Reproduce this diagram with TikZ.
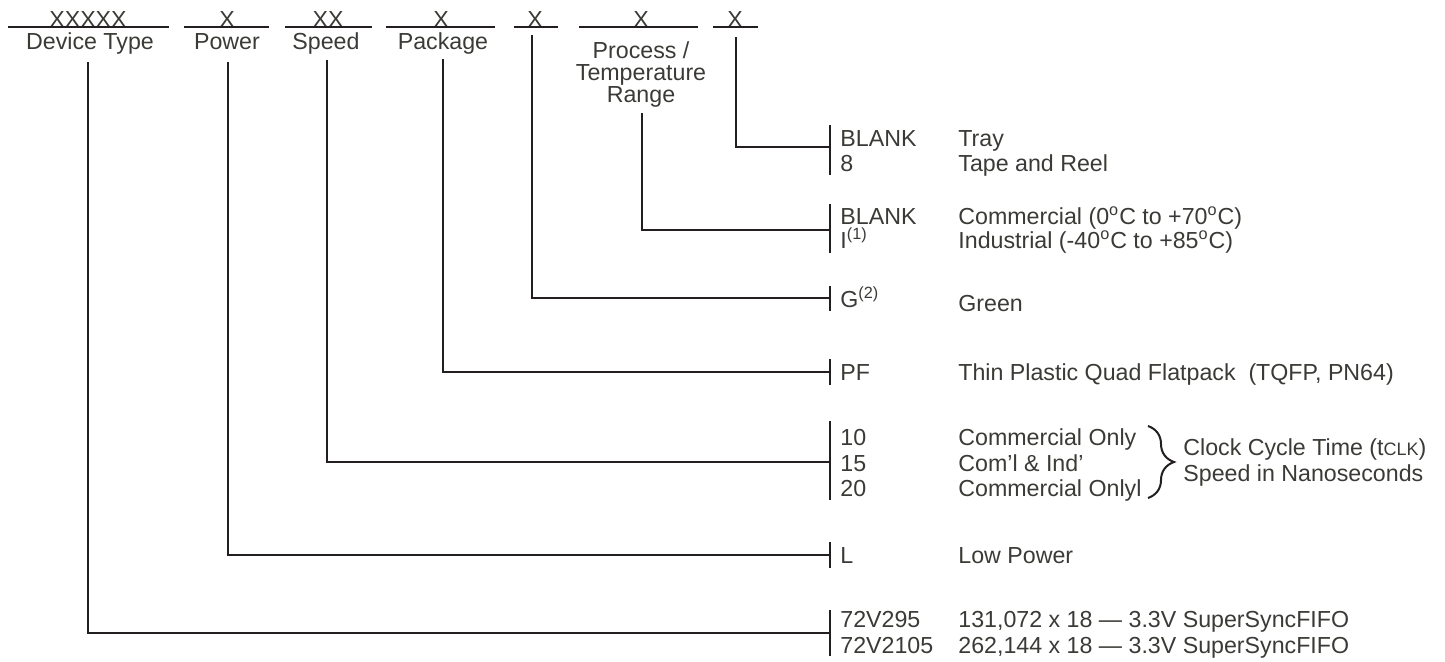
\documentclass[tikz,border=0pt]{standalone}
\usepackage{fontspec}
\setmainfont{Liberation Sans}
\usetikzlibrary{decorations.pathreplacing}
\definecolor{txt}{RGB}{58,58,54}
\definecolor{ln}{RGB}{35,31,32}
\begin{document}
\begin{tikzpicture}[x=0.5pt,y=-0.5pt,
  every node/.style={inner sep=0pt, text=txt, font=\fontsize{11.6}{11}\selectfont},
  lbl/.style={anchor=west, text height=8.3pt, text depth=0pt},
  hdr/.style={anchor=center, text height=8.3pt, text depth=0pt},
  uline/.style={draw=ln, line width=1pt},
  conn/.style={draw=ln, line width=1pt},
  barline/.style={draw=ln, line width=1.1pt}]
\useasboundingbox (0,0) rectangle (1445,661);

% ---- header fields ----
\node[hdr] (x1) at (88,19) {XXXXX};
\node[hdr] (x2) at (227,19) {X};
\node[hdr] (x3) at (328,19) {XX};
\node[hdr] (x4) at (441,19) {X};
\node[hdr] (x5) at (535,19) {X};
\node[hdr] (x6) at (641,19) {X};
\node[hdr] (x7) at (735,19) {X};
\draw[uline] (8,27) -- (169,27);
\draw[uline] (184,27) -- (269,27);
\draw[uline] (285,27) -- (372,27);
\draw[uline] (386,27) -- (495,27);
\draw[uline] (514,27) -- (558,27);
\draw[uline] (579,27) -- (698,27);
\draw[uline] (713,27) -- (758,27);

\node[hdr] (f1) at (90,41) {Device Type};
\node[hdr] (f2) at (227,41) {Power};
\node[hdr] (f3) at (326,41) {Speed};
\node[hdr] (f4) at (443,41) {Package};
\node[align=center, anchor=north] (f6) at (641,41) {Process /\\Temperature\\Range};

% ---- connector start points and junctions ----
\coordinate (s1) at (88,62);   \coordinate (j1) at (830,633);
\coordinate (s2) at (228,62);  \coordinate (j2) at (830,555);
\coordinate (s3) at (327,60);  \coordinate (j3) at (830,462);
\coordinate (s4) at (443,59);  \coordinate (j4) at (830,372);
\coordinate (s5) at (532,35);  \coordinate (j5) at (830,298);
\coordinate (s6) at (642,113); \coordinate (j6) at (830,230);
\coordinate (s7) at (736,37);  \coordinate (j7) at (830,147);

\draw[conn] (s1) |- (j1);
\draw[conn] (s2) |- (j2);
\draw[conn] (s3) |- (j3);
\draw[conn] (s4) |- (j4);
\draw[conn] (s5) |- (j5);
\draw[conn] (s6) |- (j6);
\draw[conn] (s7) |- (j7);

% ---- bars ----
\draw[barline] (830,125) -- (830,175);
\draw[barline] (830,204) -- (830,253);
\draw[barline] (830,286) -- (830,311);
\draw[barline] (830,359) -- (830,385);
\draw[barline] (830,421) -- (830,500);
\draw[barline] (830,542) -- (830,568);
\draw[barline] (830,610) -- (830,656);

% ---- codes ----
\node[lbl] (c71) at (840,138) {BLANK};
\node[lbl] (c72) at (840,163) {8};
\node[lbl] (c61) at (840,216) {BLANK};
\node[lbl] (c62) at (840,240) {I\textsuperscript{(1)}};
\node[lbl] (c5)  at (840,299) {G\textsuperscript{(2)}};
\node[lbl] (c4)  at (840,372) {PF};
\node[lbl] (c31) at (840,437) {10};
\node[lbl] (c32) at (840,463) {15};
\node[lbl] (c33) at (840,488) {20};
\node[lbl] (c2)  at (840,555) {L};
\node[lbl] (c11) at (840,619) {72V295};
\node[lbl] (c12) at (840,645) {72V2105};

% ---- descriptions ----
\node[lbl] (d71) at (958,138) {Tray};
\node[lbl] (d72) at (958,163) {Tape and Reel};
\node[lbl] (d61) at (958,216) {Commercial (0\textsuperscript{o}C to +70\textsuperscript{o}C)};
\node[lbl] (d62) at (958,240) {Industrial (-40\textsuperscript{o}C to +85\textsuperscript{o}C)};
\node[lbl] (d5)  at (958,303) {Green};
\node[lbl] (d4)  at (958,372) {Thin Plastic Quad Flatpack\ \ (TQFP, PN64)};
\node[lbl] (d31) at (958,437) {Commercial Only};
\node[lbl] (d32) at (958,463) {Com’l \& Ind’};
\node[lbl] (d33) at (958,488) {Commercial Onlyl};
\node[lbl] (d2)  at (958,555) {Low Power};
\node[lbl] (d11) at (958,619) {131,072 x 18 — 3.3V SuperSyncFIFO};
\node[lbl] (d12) at (958,645) {262,144 x 18 — 3.3V SuperSyncFIFO};

% ---- brace ----
\draw[draw=ln, line width=1pt, decorate, decoration={brace, amplitude=13pt}] (1148,426) -- (1148,498);
\node[lbl] (b1) at (1183,447) {Clock Cycle Time (t{\fontsize{9}{9}\selectfont CLK})};
\node[lbl] (b2) at (1183,473) {Speed in Nanoseconds};
\end{tikzpicture}
\end{document}
